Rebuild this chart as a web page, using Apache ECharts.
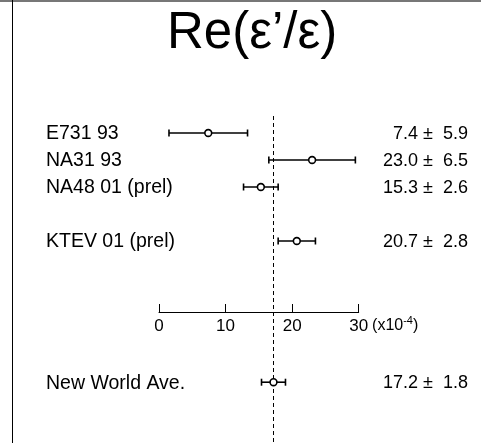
<!DOCTYPE html>
<html>
<head>
<meta charset="utf-8">
<script src="https://cdn.jsdelivr.net/npm/echarts@6/dist/echarts.min.js"></script>
<style>
html,body{margin:0;padding:0;background:#fff;}
#chart{width:481px;height:443px;}
</style>
</head>
<body>
<div id="chart"></div>
<script>
// ---- data ----
const experiments = ['E731 93', 'NA31 93', 'NA48 01 (prel)', 'KTEV 01 (prel)'];
const values = [7.4, 23.0, 15.3, 20.7];
const errors = [5.9, 6.5, 2.6, 2.8];
const aveName = 'New World Ave.';
const aveValue = 17.2;
const aveError = 1.8;
const tickLabels = ['0', '10', '20', '30'];
const titleText = 'Re(ε’/ε)';
const unitText = '(x10{sup|-4})';

// ---- layout (row slots, not data) ----
const rowSlots = [0, 1, 2, 4];
const aveSlot = 9.23;
const FONT = '"Liberation Sans", Arial, Helvetica, sans-serif';

const chart = echarts.init(document.getElementById('chart'), null, {renderer: 'canvas'});

function fmt(v, e) { return v.toFixed(1) + ' \u00b1  ' + e.toFixed(1); }

function renderRow(params, api) {
  const v = api.value(0), e = api.value(1), slot = api.value(2);
  const idx = api.value(3);
  const y = api.coord([v, slot])[1];
  const xc = api.coord([v, slot])[0];
  const xl = api.coord([v - e, slot])[0];
  const xh = api.coord([v + e, slot])[0];
  const label = idx < 0 ? aveName : experiments[idx];
  const stroke = {stroke: '#000', lineWidth: 1.6};
  return {
    type: 'group',
    children: [
      {type: 'line', shape: {x1: xl, y1: y, x2: xh, y2: y}, style: stroke},
      {type: 'line', shape: {x1: xl, y1: y - 3.5, x2: xl, y2: y + 3.5}, style: stroke},
      {type: 'line', shape: {x1: xh, y1: y - 3.5, x2: xh, y2: y + 3.5}, style: stroke},
      {type: 'circle', shape: {cx: xc, cy: y, r: 3.4}, style: {fill: '#fff', stroke: '#000', lineWidth: 1.6}},
      {type: 'text', x: 46, y: y + 1, style: {text: label, fill: '#000', font: '19.5px ' + FONT, align: 'left', verticalAlign: 'middle'}},
      {type: 'text', x: 468, y: y + 1, style: {text: fmt(v, e), fill: '#000', font: '18px ' + FONT, align: 'right', verticalAlign: 'middle'}}
    ]
  };
}

const rowData = values.map((v, i) => [v, errors[i], rowSlots[i], i]);

const yMin = -17 / 27;
const yMax = yMin + 327 / 27;

chart.setOption({
  animation: false,
  backgroundColor: '#fff',
  textStyle: {fontFamily: FONT},
  title: {
    text: titleText, left: 162, top: 3,
    textStyle: {fontSize: 51, fontWeight: 'normal', color: '#000', fontFamily: FONT}
  },
  graphic: [
    {type: 'line', shape: {x1: 0, y1: 1, x2: 481, y2: 1}, style: {stroke: '#777', lineWidth: 2}, z: 10},
    {type: 'line', shape: {x1: 12.5, y1: 0, x2: 12.5, y2: 443}, style: {stroke: '#000', lineWidth: 1}, z: 10}
  ],
  grid: [
    {left: 159, right: 122.3, top: 116, height: 327},
    {left: 159, right: 122.3, top: 250, bottom: 131}
  ],
  xAxis: [
    {gridIndex: 0, type: 'value', min: 0, max: 30, show: false},
    {gridIndex: 1, type: 'value', min: 0, max: 30, interval: 10,
     axisLine: {show: true, lineStyle: {color: '#000', width: 1}},
     axisTick: {show: true, inside: true, length: 8, lineStyle: {color: '#000', width: 1}},
     splitLine: {show: false},
     axisLabel: {color: '#000', fontSize: 17, margin: 6, fontFamily: FONT,
       formatter: (val) => tickLabels[Math.round(val / 10)]},
     name: unitText, nameLocation: 'end', nameGap: 11,
     nameTextStyle: {color: '#000', fontSize: 16, fontFamily: FONT, verticalAlign: 'top', align: 'left', padding: [3, 0, 0, 0],
       rich: {sup: {fontSize: 11, color: '#000', fontFamily: FONT, verticalAlign: 'bottom', padding: [0, 0, 10, 0]}}}
    }
  ],
  yAxis: [
    {gridIndex: 0, type: 'value', inverse: true, min: yMin, max: yMax, show: false},
    {gridIndex: 1, type: 'value', show: false}
  ],
  series: [
    {
      type: 'line', xAxisIndex: 0, yAxisIndex: 0, data: [[aveValue, aveSlot]], symbol: 'none', z: 1,
      markLine: {
        silent: true, symbol: 'none', label: {show: false},
        lineStyle: {color: '#000', width: 1, type: [4, 3]},
        data: [{xAxis: aveValue}]
      }
    },
    {
      type: 'custom', xAxisIndex: 0, yAxisIndex: 0, z: 5,
      renderItem: renderRow, data: rowData, clip: false
    },
    {
      type: 'custom', xAxisIndex: 0, yAxisIndex: 0, z: 5,
      renderItem: renderRow, data: [[aveValue, aveError, aveSlot, -1]], clip: false
    }
  ]
});
</script>
</body>
</html>
